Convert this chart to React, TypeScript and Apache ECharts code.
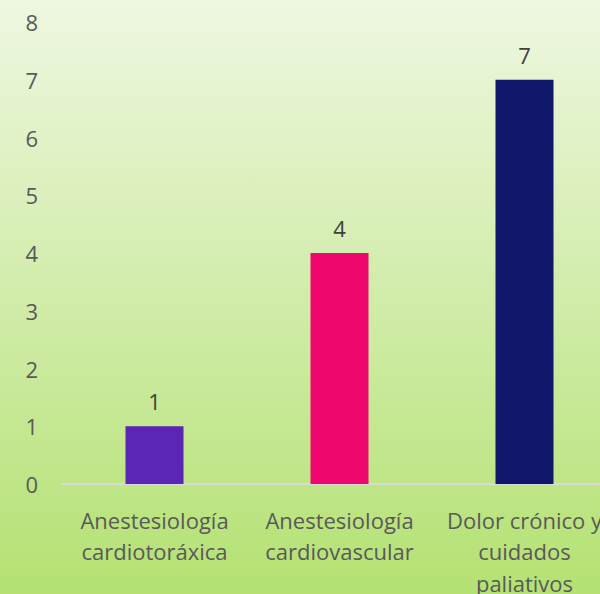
import React, { useEffect, useRef } from "react";
import * as echarts from "echarts";

const categories = [
  "Anestesiología\ncardiotoráxica",
  "Anestesiología\ncardiovascular",
  "Dolor crónico y\ncuidados\npaliativos",
];
const values = [1, 4, 7];
const barColors = ["#5B25B5", "#F0066F", "#10166A"];
const yTicks = { min: 0, max: 8, interval: 1 };

const FONT = "Open Sans";

export default function App() {
  const ref = useRef<HTMLDivElement>(null);
  useEffect(() => {
    if (!ref.current) return;
    const chart = echarts.init(ref.current, null, { renderer: "svg" });
    chart.setOption({
      animation: false,
      backgroundColor: {
        type: "linear",
        x: 0,
        y: 0,
        x2: 0,
        y2: 1,
        colorStops: [
          { offset: 0, color: "#EEF7E1" },
          { offset: 1, color: "#B4E172" },
        ],
      },
      textStyle: { fontFamily: FONT },
      grid: {
        left: 62,
        top: 22,
        width: 555,
        height: 462,
        containLabel: false,
        outerBoundsMode: "none",
      },
      xAxis: {
        type: "category",
        data: categories,
        axisLine: { show: true, lineStyle: { color: "#D9D9D9", width: 2 } },
        axisTick: { show: false },
        axisLabel: {
          color: "#595959",
          fontSize: 22,
          lineHeight: 31.5,
          margin: 20,
          interval: 0,
          fontFamily: FONT,
        },
      },
      yAxis: {
        type: "value",
        min: yTicks.min,
        max: yTicks.max,
        interval: yTicks.interval,
        splitLine: { show: false },
        axisLine: { show: false },
        axisTick: { show: false },
        axisLabel: { color: "#595959", fontSize: 22, margin: 24, fontFamily: FONT },
      },
      series: [
        {
          type: "bar",
          data: values.map((v, i) => ({ value: v, itemStyle: { color: barColors[i] } })),
          barWidth: 58,
          label: {
            show: true,
            position: "top",
            distance: 14,
            color: "#404040",
            fontSize: 22,
            fontFamily: FONT,
          },
        },
      ],
    });
    return () => chart.dispose();
  }, []);
  return (
    <div style={{ position: "fixed", left: 0, top: 0, width: 600, height: 594, overflow: "hidden" }}>
      <div ref={ref} style={{ width: 618, height: 594 }} />
    </div>
  );
}
